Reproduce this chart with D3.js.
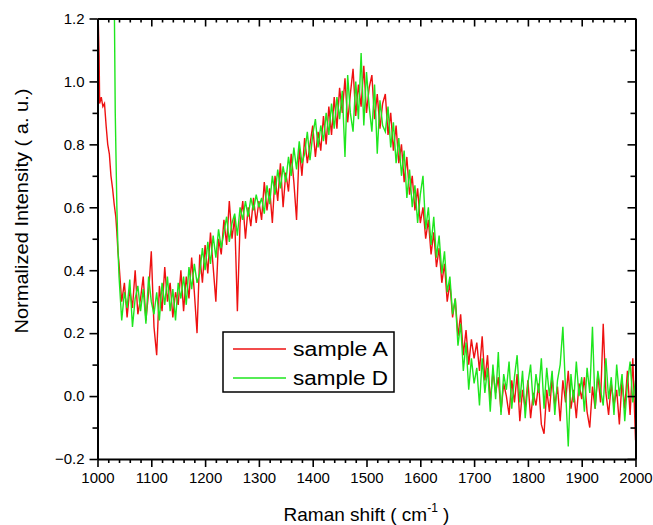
<!DOCTYPE html>
<html>
<head>
<meta charset="utf-8">
<script src="https://cdn.jsdelivr.net/npm/d3@7"></script>
<style>
    body { margin: 0; background: #fff; }
    svg { display: block; font-family: Arial, "Liberation Sans", sans-serif; }
    .axis path, .axis line { stroke: #000; }
    .axis text { font-size: 15px; fill: #000; }
</style>
</head>
<body>
<div id="chart"></div>
<script>
// Raman spectra

// steep fluorescence edge at the start of each spectrum
const headShiftA = [1000, 1002, 1003, 1004, 1007, 1010, 1013, 1016, 1019, 1022, 1025, 1028, 1031, 1034, 1036, 1038];
const headIntensityA = [1.30, 1.15, 1.08, 0.93, 0.95, 0.92, 0.93, 0.86, 0.80, 0.77, 0.70, 0.66, 0.61, 0.57, 0.52, 0.46];
const headShiftD = [1029, 1033, 1036, 1038];
const headIntensityD = [1.70, 0.90, 0.60, 0.47];

// main part, sampled every 5 cm-1 from 1040 to 2000
const gridStart = 1040;
const gridStep = 5;

const intensityA = [
    0.42, 0.30, 0.36, 0.25, 0.34, 0.28, 0.40, 0.26, 0.31, 0.38, 0.24, 0.33, 0.46, 0.22, 0.13, 0.35,
    0.27, 0.41, 0.30, 0.36, 0.25, 0.33, 0.29,
    0.40, 0.27, 0.38, 0.31, 0.44, 0.33, 0.20, 0.45, 0.36, 0.48, 0.39, 0.52, 0.41, 0.30, 0.50, 0.45,
    0.56, 0.48, 0.62, 0.50, 0.57, 0.27, 0.55, 0.62, 0.50, 0.60, 0.54, 0.63, 0.55, 0.62,
    0.56, 0.68, 0.59, 0.66, 0.55, 0.70, 0.62, 0.74, 0.60, 0.71, 0.65, 0.77, 0.68, 0.56, 0.79, 0.70,
    0.82, 0.74, 0.80, 0.86, 0.76, 0.84, 0.78, 0.89, 0.80, 0.92, 0.83, 0.95, 0.85, 0.98,
    0.90, 1.01, 0.87, 0.96, 1.04, 0.89, 0.99, 0.92, 1.05, 0.90, 0.98, 1.02, 0.88, 0.96, 0.85, 0.93,
    0.96, 0.83, 0.90, 0.78, 0.86, 0.74, 0.80, 0.68, 0.76, 0.64, 0.70, 0.59, 0.66, 0.55, 0.60, 0.50,
    0.56, 0.45, 0.52, 0.41, 0.47, 0.36, 0.42, 0.30, 0.36, 0.25, 0.31, 0.19, 0.26, 0.13, 0.21, 0.10,
    0.18, 0.12,
    0.17, 0.08, 0.19, 0.05, 0.13, -0.02, 0.08, 0.01, 0.06, -0.05, 0.04, 0.00, -0.06, 0.05, -0.02,
    0.07, -0.08, 0.02, -0.04, 0.05, -0.07, 0.01, -0.03, 0.04, -0.09, -0.12, 0.02, -0.05, 0.06, -0.03,
    0.03, -0.08, 0.05, -0.02, 0.08, -0.04, 0.02, -0.07, 0.04, -0.01, 0.06, -0.05, -0.10, 0.03, -0.04,
    0.07, -0.02, 0.23, 0.01, -0.06, 0.04, -0.03, 0.02, -0.09, 0.05, -0.04, 0.08, -0.06, 0.12, -0.14
];

const intensityD = [
    0.38, 0.24, 0.33, 0.28, 0.37, 0.22, 0.31, 0.35, 0.27, 0.34, 0.23, 0.38, 0.30, 0.26, 0.33, 0.24,
    0.36, 0.29, 0.38, 0.27, 0.34, 0.24, 0.36,
    0.31, 0.38, 0.29, 0.41, 0.34, 0.42, 0.36, 0.39, 0.47, 0.40, 0.49, 0.42, 0.51, 0.44, 0.53, 0.47,
    0.52, 0.57, 0.49, 0.55, 0.58, 0.51, 0.60, 0.56, 0.62, 0.57, 0.63, 0.59, 0.64, 0.60,
    0.63, 0.58, 0.67, 0.61, 0.70, 0.64, 0.72, 0.66, 0.73, 0.68, 0.76, 0.70, 0.79, 0.72, 0.81, 0.74,
    0.77, 0.84, 0.75, 0.83, 0.88, 0.79, 0.86, 0.81, 0.90, 0.83, 0.93, 0.85, 0.95, 0.88,
    0.97, 0.76, 1.02, 0.90, 0.84, 1.00, 0.88, 1.09, 0.86, 1.03, 0.92, 0.84, 0.99, 0.77, 0.94, 0.86,
    0.84, 0.92, 0.79, 0.87, 0.74, 0.82, 0.70, 0.78, 0.63, 0.72, 0.60, 0.67, 0.55, 0.64, 0.70, 0.53,
    0.60, 0.48, 0.57, 0.44, 0.51, 0.39, 0.46, 0.33, 0.38, 0.26, 0.31, 0.16, 0.23, 0.08, 0.17, 0.02,
    0.12, 0.04,
    0.09, -0.03, 0.12, 0.01, 0.09, -0.05, 0.10, -0.01, 0.14, -0.06, 0.07, 0.02, 0.11, -0.04, 0.06,
    0.13, -0.02, 0.08, -0.07, 0.04, 0.10, -0.03, 0.07, 0.01, 0.12, -0.04, 0.09, 0.00, 0.08, -0.06,
    0.05, 0.10, 0.22, 0.02, -0.16, 0.07, -0.02, 0.11, 0.00, 0.06, -0.05, 0.09, 0.01, 0.22, -0.04,
    0.08, 0.02, -0.03, 0.12, -0.01, 0.06, -0.06, 0.10, 0.00, 0.07, -0.08, 0.04, 0.11, -0.02, 0.05
];

const seriesNames = ['sample A', 'sample D'];
const seriesColors = ['#ee1111', '#1ee61e'];

const xTickValues = [1000, 1100, 1200, 1300, 1400, 1500, 1600, 1700, 1800, 1900, 2000];
const yTickValues = [-0.2, 0.0, 0.2, 0.4, 0.6, 0.8, 1.0, 1.2];

const svgWidth = 653;
const svgHeight = 525;
const margin = {top: 18.5, right: 17.5, bottom: 66, left: 97.5};
const width = svgWidth - margin.left - margin.right;
const height = svgHeight - margin.top - margin.bottom;

const svg = d3.select('#chart').append('svg')
    .attr('width', svgWidth)
    .attr('height', svgHeight);

const chart = svg.append('g')
    .attr('transform', `translate(${margin.left},${margin.top})`);

const xScale = d3.scaleLinear().domain([1000, 2000]).range([0, width]);
const yScale = d3.scaleLinear().domain([-0.2, 1.2]).range([height, 0]);

// build point lists: head + regular grid
function buildSeries(headX, headY, values) {
    const pts = headX.map((x, i) => ({x: x, y: headY[i]}));
    values.forEach((v, i) => pts.push({x: gridStart + i * gridStep, y: v}));
    return pts;
}
const spectra = [
    buildSeries(headShiftA, headIntensityA, intensityA),
    buildSeries(headShiftD, headIntensityD, intensityD)
];

chart.append('clipPath').attr('id', 'plot-clip')
    .append('rect').attr('width', width).attr('height', height);

const line = d3.line()
    .x(d => xScale(d.x))
    .y(d => yScale(d.y));

chart.append('g').attr('clip-path', 'url(#plot-clip)')
    .selectAll('path')
    .data(spectra)
    .join('path')
    .attr('fill', 'none')
    .attr('stroke', (d, i) => seriesColors[i])
    .attr('stroke-width', 1.4)
    .attr('d', line);

// minor tick positions
const xMinor = d3.range(1000, 2001, 20).filter(v => v % 100 !== 0);
const yMinor = [-0.1, 0.1, 0.3, 0.5, 0.7, 0.9, 1.1];

function styleAxis(g) {
    g.select('.domain').attr('stroke-width', 2);
    g.selectAll('.tick line').attr('stroke-width', 1.6);
}

// bottom axis, ticks outward
chart.append('g').attr('class', 'axis')
    .attr('transform', `translate(0,${height})`)
    .call(d3.axisBottom(xScale).tickValues(xTickValues).tickSize(8).tickSizeOuter(0).tickPadding(5).tickFormat(d3.format('d')))
    .call(styleAxis);
chart.append('g').attr('class', 'axis')
    .attr('transform', `translate(0,${height})`)
    .call(d3.axisBottom(xScale).tickValues(xMinor).tickSize(4).tickSizeOuter(0).tickFormat(''))
    .call(g => g.select('.domain').remove())
    .call(styleAxis);

// top axis, ticks inward
chart.append('g').attr('class', 'axis')
    .call(d3.axisBottom(xScale).tickValues(xTickValues).tickSize(8).tickSizeOuter(0).tickFormat(''))
    .call(styleAxis);
chart.append('g').attr('class', 'axis')
    .call(d3.axisBottom(xScale).tickValues(xMinor).tickSize(4).tickSizeOuter(0).tickFormat(''))
    .call(g => g.select('.domain').remove())
    .call(styleAxis);

// left axis, ticks outward
chart.append('g').attr('class', 'axis')
    .call(d3.axisLeft(yScale).tickValues(yTickValues).tickSize(8).tickSizeOuter(0).tickPadding(5).tickFormat(d3.format('.1f')))
    .call(styleAxis);
chart.append('g').attr('class', 'axis')
    .call(d3.axisLeft(yScale).tickValues(yMinor).tickSize(5).tickSizeOuter(0).tickFormat(''))
    .call(g => g.select('.domain').remove())
    .call(styleAxis);

// right axis, ticks inward
chart.append('g').attr('class', 'axis')
    .attr('transform', `translate(${width},0)`)
    .call(d3.axisLeft(yScale).tickValues(yTickValues).tickSize(8).tickSizeOuter(0).tickFormat(''))
    .call(styleAxis);
chart.append('g').attr('class', 'axis')
    .attr('transform', `translate(${width},0)`)
    .call(d3.axisLeft(yScale).tickValues(yMinor).tickSize(5).tickSizeOuter(0).tickFormat(''))
    .call(g => g.select('.domain').remove())
    .call(styleAxis);

// axis titles
const xTitle = svg.append('text')
    .attr('x', margin.left + width / 2)
    .attr('y', 521)
    .attr('text-anchor', 'middle')
    .style('font-size', '19px');
xTitle.append('tspan').text('Raman shift ( cm');
xTitle.append('tspan').attr('dy', -9).style('font-size', '12px').text('-1');
xTitle.append('tspan').attr('dy', 9).text(' )');

svg.append('text')
    .attr('transform', 'translate(28,211) rotate(-90)')
    .attr('text-anchor', 'middle')
    .attr('textLength', 245)
    .attr('lengthAdjust', 'spacingAndGlyphs')
    .style('font-size', '19px')
    .text('Normalized Intensity ( a. u.)');

// legend
const legend = svg.append('g').attr('transform', 'translate(223,332)');
legend.append('rect')
    .attr('width', 171)
    .attr('height', 60)
    .attr('fill', '#fff')
    .attr('stroke', '#000')
    .attr('stroke-width', 1.5);
const items = legend.selectAll('g.item')
    .data(seriesNames)
    .join('g')
    .attr('class', 'item')
    .attr('transform', (d, i) => `translate(0,${17 + i * 29})`);
items.append('line')
    .attr('x1', 10).attr('x2', 63)
    .attr('stroke', (d, i) => seriesColors[i])
    .attr('stroke-width', 1.5);
items.append('text')
    .attr('x', 70)
    .attr('y', 7)
    .attr('textLength', 95)
    .attr('lengthAdjust', 'spacingAndGlyphs')
    .style('font-size', '20px')
    .text(d => d);
</script>
</body>
</html>
